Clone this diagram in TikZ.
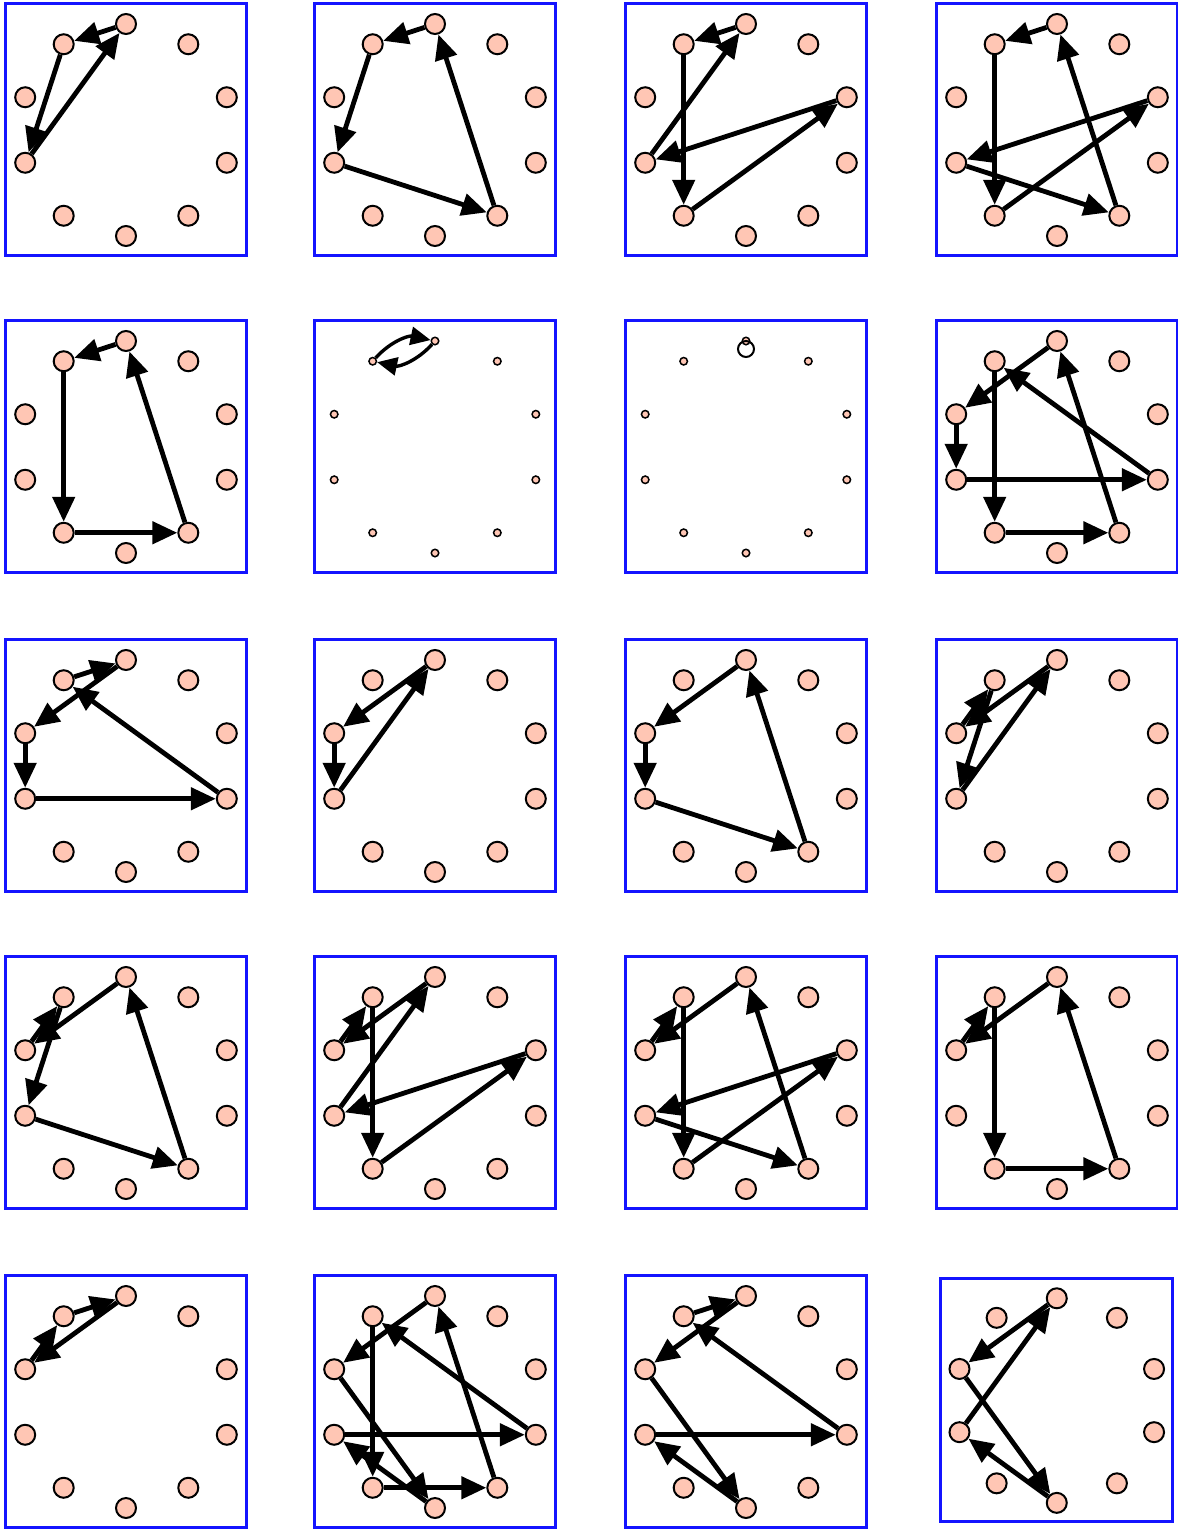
\documentclass[tikz,border=0pt]{standalone}
\usepackage{tikz}
\usetikzlibrary{arrows.meta, calc}

\definecolor{vtxfill}{RGB}{255,198,180}
\definecolor{boxblue}{RGB}{20,20,255}

\tikzset{
  vtx/.style={circle, draw=black, line width=2pt, fill=vtxfill,
    minimum size=20pt, inner sep=0pt},
  vtxsmall/.style={circle, draw=black, line width=1.5pt, fill=vtxfill,
    minimum size=7.5pt, inner sep=0pt},
  panelbox/.style={draw=boxblue, line width=3pt},
  edge/.style={line width=4.8pt, -{Triangle[length=25pt, width=22pt]}},
  thinedge/.style={line width=3.4pt, -{Triangle[length=20pt, width=18pt]}},
  loopline/.style={line width=2pt},
}

% riquadro + anello di dieci vertici (0 in alto, numerati in senso orario)
\newcommand{\ringpanel}[5][1]{%
  \begin{scope}[shift={(#3,#4)}, scale=#1]
    \draw[panelbox] (0,0) rectangle (241,252);
    \foreach \k in {0,...,9}
      \node[#5] (#2-\k) at ({121+106*sin(36*\k)}, {127-106*cos(36*\k)}) {};
  \end{scope}}

% archi orientati a/b tra i vertici di un riquadro
\newcommand{\ringedges}[2]{%
  \foreach \a/\b in {#2}
    \draw[edge] (#1-\a) -- (#1-\b);}

\begin{document}
\begin{tikzpicture}[x=1pt, y=-1pt]

  \useasboundingbox (0,0) rectangle (1178,1529);

  % --- Riga 1 ---
  \ringpanel{p11}{5}{3}{vtx}
  \ringedges{p11}{0/9, 9/7, 7/0}
  \ringpanel{p12}{314}{3}{vtx}
  \ringedges{p12}{0/9, 9/7, 7/4, 4/0}
  \ringpanel{p13}{625}{3}{vtx}
  \ringedges{p13}{0/9, 9/6, 6/2, 2/7, 7/0}
  \ringpanel{p14}{936}{3}{vtx}
  \ringedges{p14}{0/9, 9/6, 6/2, 2/7, 7/4, 4/0}

  % --- Riga 2 ---
  \ringpanel{p21}{5}{320}{vtx}
  \ringedges{p21}{0/9, 9/6, 6/4, 4/0}
  \ringpanel{p22}{314}{320}{vtxsmall}
  \draw[thinedge] (p22-9) to[bend left=30] (p22-0);
  \draw[thinedge] (p22-0) to[bend left=30] (p22-9);
  \ringpanel{p23}{625}{320}{vtxsmall}
  \draw[loopline] (p23-0.center) ++(0,8) circle[radius=8];
  \ringpanel{p24}{936}{320}{vtx}
  \ringedges{p24}{0/8, 8/7, 7/3, 3/9, 9/6, 6/4, 4/0}

  % --- Riga 3 ---
  \ringpanel{p31}{5}{639}{vtx}
  \ringedges{p31}{9/0, 0/8, 8/7, 7/3, 3/9}
  \ringpanel{p32}{314}{639}{vtx}
  \ringedges{p32}{0/8, 8/7, 7/0}
  \ringpanel{p33}{625}{639}{vtx}
  \ringedges{p33}{0/8, 8/7, 7/4, 4/0}
  \ringpanel{p34}{936}{639}{vtx}
  \ringedges{p34}{0/8, 8/9, 9/7, 7/0}

  % --- Riga 4 ---
  \ringpanel{p41}{5}{956}{vtx}
  \ringedges{p41}{0/8, 8/9, 9/7, 7/4, 4/0}
  \ringpanel{p42}{314}{956}{vtx}
  \ringedges{p42}{0/8, 8/9, 9/6, 6/2, 2/7, 7/0}
  \ringpanel{p43}{625}{956}{vtx}
  \ringedges{p43}{0/8, 8/9, 9/6, 6/2, 2/7, 7/4, 4/0}
  \ringpanel{p44}{936}{956}{vtx}
  \ringedges{p44}{0/8, 8/9, 9/6, 6/4, 4/0}

  % --- Riga 5 ---
  \ringpanel{p51}{5}{1275}{vtx}
  \ringedges{p51}{9/0, 0/8, 8/9}
  \ringpanel{p52}{314}{1275}{vtx}
  \ringedges{p52}{0/8, 8/5, 5/7, 7/3, 3/9, 9/6, 6/4, 4/0}
  \ringpanel{p53}{625}{1275}{vtx}
  \ringedges{p53}{9/0, 0/8, 8/5, 5/7, 7/3, 3/9}
  \ringpanel[0.965]{p54}{940}{1278}{vtx}
  \ringedges{p54}{0/8, 8/5, 5/7, 7/0}

\end{tikzpicture}
\end{document}
